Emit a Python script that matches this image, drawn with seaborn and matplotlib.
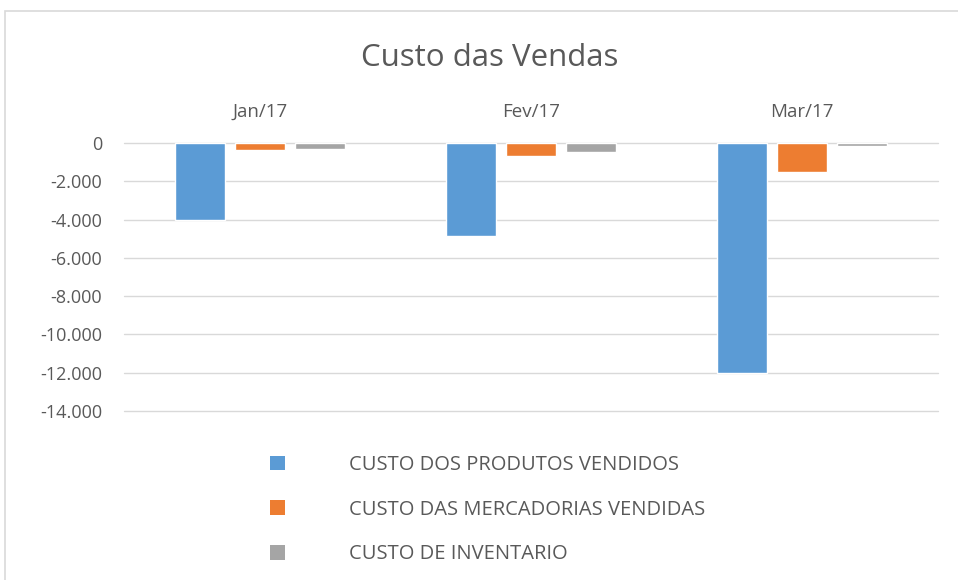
import pandas as pd
import matplotlib.pyplot as plt
import seaborn as sns
from matplotlib.patches import Patch, Rectangle
from matplotlib.ticker import FuncFormatter

# Valeurs
meses = ["Jan/17", "Fev/17", "Mar/17"]
series = ["CUSTO DOS PRODUTOS VENDIDOS", "CUSTO DAS MERCADORIAS VENDIDAS", "CUSTO DE INVENTARIO"]
produtos = [-4000, -4880, -12000]
mercadorias = [-350, -680, -1490]
inventario = [-290, -480, -140]
cores = ["#5B9BD5", "#ED7D31", "#A5A5A5"]

df = pd.DataFrame({
    "mes": meses * 3,
    "serie": [series[0]] * 3 + [series[1]] * 3 + [series[2]] * 3,
    "valor": produtos + mercadorias + inventario,
})

sns.set_style("white")
plt.rcParams['font.family'] = ['Open Sans', 'DejaVu Sans']
texto = "#595959"

fig = plt.figure(figsize=(9.58, 5.8), dpi=100)
ax = fig.add_axes([124.5 / 958, 1 - 411 / 580, 813 / 958, 268 / 580])

sns.barplot(data=df, x="mes", y="valor", hue="serie", palette=cores,
            width=0.664, gap=0.17, ax=ax, legend=False, saturation=1)

ax.set_ylim(-14000, 0)
ax.set_yticks(range(-14000, 1, 2000))
ax.yaxis.set_major_formatter(FuncFormatter(lambda v, p: f"{int(v):,}".replace(",", ".")))
ax.grid(axis="y", color="#d9d9d9", linewidth=1)
for g in ax.get_ygridlines():
    g.set_clip_on(False)
ax.set_axisbelow(True)
for s in ax.spines.values():
    s.set_visible(False)
ax.xaxis.tick_top()
ax.tick_params(axis="x", length=0, pad=16, labelsize=13.5, labelcolor=texto)
ax.tick_params(axis="y", length=0, pad=16, labelsize=13, labelcolor=texto)
ax.set_xlabel("")
ax.set_ylabel("")

fig.text(490 / 958, 1 - 58 / 580, "Custo das Vendas", ha="center", va="center",
         fontsize=22.5, color=texto)

handles = [Patch(facecolor=c, edgecolor="none") for c in cores]
fig.legend(handles, series, loc="upper left", bbox_to_anchor=(251.5 / 958, 1 - 437 / 580),
           frameon=False, fontsize=14.5, labelcolor=texto, handlelength=0.75,
           handleheight=0.75, handletextpad=3.2, labelspacing=1.22)

# Cadre du graphique
fig.patches.append(Rectangle((5 / 958, -0.1), 1.1, 1 - 11 / 580 + 0.1,
                             transform=fig.transFigure, fill=False,
                             edgecolor="#d9d9d9", linewidth=1.2))

fig.savefig("out.png", dpi=100)
